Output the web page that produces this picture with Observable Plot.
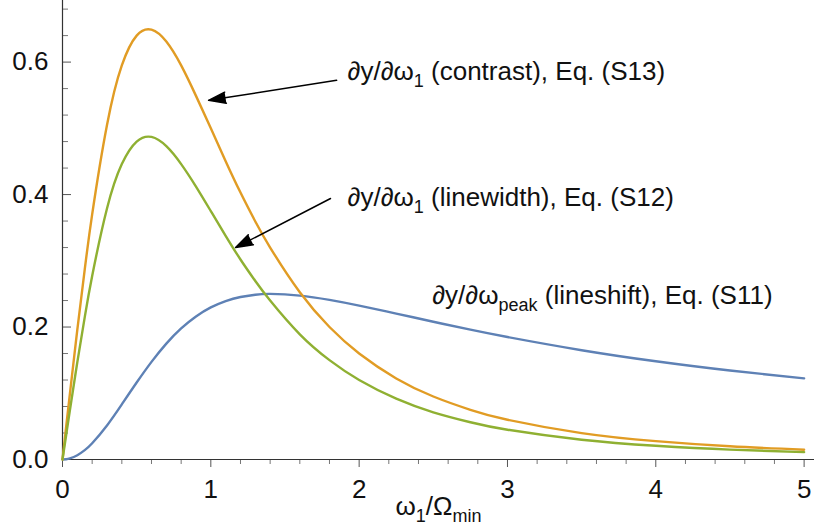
<!DOCTYPE html>
<html><head><meta charset="utf-8">
<script src="https://cdn.jsdelivr.net/npm/d3@7"></script>
<script src="https://cdn.jsdelivr.net/npm/@observablehq/plot@0.6"></script>
<style>
html,body{margin:0;padding:0;background:#fff;}
</style>
</head><body><div id="chart"></div>
<script>
// x values (ω1/Ωmin) at which the curves were read
const xs = [0, 0.025, 0.05, 0.1, 0.15, 0.2, 0.3, 0.4, 0.5, 0.6, 0.7, 0.8, 0.9, 1.0, 1.1, 1.2, 1.3, 1.4, 1.6, 1.8, 2.0, 2.25, 2.5, 2.75, 3.0, 3.5, 4.0, 4.5, 5.0];
// ∂y/∂ωpeak (lineshift), Eq. (S11) — blue
const lineshift = [0, 0.0004, 0.0016, 0.0064, 0.0141, 0.0245, 0.0514, 0.0832, 0.1162, 0.1474, 0.1750, 0.1979, 0.2160, 0.2296, 0.2392, 0.2454, 0.2488, 0.2500, 0.2475, 0.2410, 0.2324, 0.2203, 0.2080, 0.1960, 0.1849, 0.1650, 0.1483, 0.1343, 0.1225];
// ∂y/∂ω1 (contrast), Eq. (S13) — orange
const contrast = [0, 0.050, 0.0995, 0.196, 0.287, 0.370, 0.505, 0.595, 0.640, 0.649, 0.631, 0.595, 0.549, 0.500, 0.4504, 0.403, 0.3593, 0.320, 0.2525, 0.200, 0.160, 0.1224, 0.0951, 0.0750, 0.060, 0.0399, 0.0277, 0.0199, 0.0148];
// ∂y/∂ω1 (linewidth), Eq. (S12) — green
const linewidth = [0, 0.0374, 0.0746, 0.147, 0.215, 0.277, 0.379, 0.446, 0.480, 0.487, 0.473, 0.446, 0.412, 0.375, 0.3378, 0.302, 0.2695, 0.240, 0.189, 0.150, 0.120, 0.0918, 0.0713, 0.0563, 0.045, 0.0299, 0.0208, 0.0149, 0.0111];

const seriesNames = ["lineshift", "contrast", "linewidth"];
const seriesValues = [lineshift, contrast, linewidth];
const seriesColors = ["#5E81B5", "#E19C24", "#8FB032"];

// tick values
const xMajor = [0, 1, 2, 3, 4, 5];
const xMinor = [0.2,0.4,0.6,0.8,1.2,1.4,1.6,1.8,2.2,2.4,2.6,2.8,3.2,3.4,3.6,3.8,4.2,4.4,4.6,4.8];
const yMajor = [0, 0.2, 0.4, 0.6];
const yMinor = [0.04,0.08,0.12,0.16,0.24,0.28,0.32,0.36,0.44,0.48,0.52,0.56,0.64,0.68];

// annotations (label, anchor position in data units)
const annotLabels = ["∂y/∂ω_{1} (contrast), Eq. (S13)", "∂y/∂ω_{1} (linewidth), Eq. (S12)", "∂y/∂ω_{peak} (lineshift), Eq. (S11)"];
const annotX = [1.922, 1.922, 2.493];
const annotY = [0.585, 0.396, 0.248];
// arrows: from (x1,y1) to tip (x2,y2)
const arrowX1 = [1.848, 1.807];
const arrowY1 = [0.5725, 0.394];
const arrowX2 = [0.985, 1.167];
const arrowY2 = [0.5423, 0.320];
const xLabel = "ω_{1}/Ω_{min}";

const rows = [];
seriesNames.forEach((s, k) => xs.forEach((x, i) => rows.push({series: s, x, y: seriesValues[k][i]})));
const annots = annotLabels.map((t, i) => ({t, x: annotX[i], y: annotY[i]}));
const arrows = arrowX1.map((_, i) => ({x1: arrowX1[i], y1: arrowY1[i], x2: arrowX2[i], y2: arrowY2[i]}));

const chart = Plot.plot({
  width: 814, height: 529,
  marginLeft: 62, marginRight: 0, marginTop: 0, marginBottom: 70,
  style: {fontFamily: "'Liberation Sans', Arial, sans-serif", fontSize: "26px", background: "white", color: "black", overflow: "visible"},
  x: {domain: [0, 5.07]},
  y: {domain: [0, 0.693]},
  color: {domain: seriesNames, range: seriesColors},
  marks: [
    Plot.axisX(xMajor, {tickSize: 8, fill: "none", stroke: "#555", label: null}),
    Plot.axisX(xMinor, {tickSize: 5, fill: "none", stroke: "#777", label: null}),
    Plot.axisX(xMajor, {tickSize: 0, tickPadding: 20, tickFormat: d => String(d), fill: "#111", label: null}),
    Plot.axisY(yMajor, {tickSize: -9, fill: "none", stroke: "#555", label: null}),
    Plot.axisY(yMinor, {tickSize: -6, fill: "none", stroke: "#777", label: null}),
    Plot.axisY(yMajor, {tickSize: 0, tickPadding: 14, tickFormat: d3.format(".1f"), fill: "#111", label: null}),
    Plot.ruleY([0], {stroke: "#333", strokeWidth: 1.2}),
    Plot.ruleX([0], {stroke: "#333", strokeWidth: 1.2}),
    Plot.line(rows, {x: "x", y: "y", z: "series", stroke: "series", strokeWidth: 2.4, curve: "natural"}),
    Plot.arrow(arrows, {x1: "x1", y1: "y1", x2: "x2", y2: "y2", stroke: "black", fill: "black", strokeWidth: 1.5, headLength: 18, headAngle: 36}),
    Plot.text(annots, {x: "x", y: "y", text: "t", textAnchor: "start", fill: "#111"}),
    Plot.text([xLabel], {frameAnchor: "bottom", dy: 55, text: d => d, fill: "#111"})
  ]
});
document.getElementById("chart").appendChild(chart);

// turn _{...} into real subscripts
const NS = "http://www.w3.org/2000/svg";
chart.querySelectorAll("text").forEach(el => {
  const str = el.textContent;
  if (!str.includes("_{")) return;
  el.textContent = "";
  const parts = str.split(/(_\{[^}]*\})/);
  let down = false;
  for (const p of parts) {
    if (!p) continue;
    const t = document.createElementNS(NS, "tspan");
    if (p.startsWith("_{")) {
      t.textContent = p.slice(2, -1);
      t.setAttribute("font-size", "18px");
      t.setAttribute("dy", "7");
      down = true;
    } else {
      t.textContent = p;
      if (down) { t.setAttribute("dy", "-7"); down = false; }
    }
    el.appendChild(t);
  }
});
</script>
</body></html>
